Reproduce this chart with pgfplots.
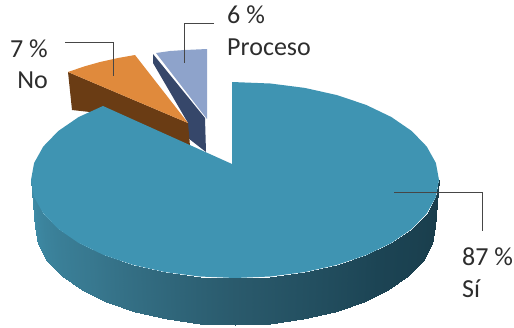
\documentclass[border=0pt]{standalone}
\usepackage{fontspec}
\setmainfont{Carlito}
\usepackage{pgfplots}
\pgfplotsset{compat=1.18}
\definecolor{sitop}{RGB}{63,148,178}
\definecolor{notop}{RGB}{224,138,60}
\definecolor{noside}{RGB}{106,60,20}
\definecolor{protop}{RGB}{142,163,203}
\definecolor{proside}{RGB}{54,71,106}
\definecolor{leader}{RGB}{70,70,70}
\definecolor{labeltext}{RGB}{45,45,45}
\tikzset{lab/.style={inner sep=0pt, text=labeltext, font=\fontsize{26pt}{26pt}\selectfont}}
\begin{document}
\begin{tikzpicture}
\begin{axis}[
  width=514pt, height=327pt, scale only axis,
  xmin=0, xmax=514, ymin=0, ymax=327, y dir=reverse,
  axis lines=none, clip=false,
  colormap={pieside}{rgb255=(25,60,74) rgb255=(28,68,84) rgb255=(42,90,108) rgb255=(56,120,143) rgb255=(62,140,167)},
  point meta min=0, point meta max=18,
]
% Proceso slice: side, then top
\addplot[draw=none, fill=proside] coordinates {(153,54) (205,118) (206,152) (188,138) (188,123) (153,63)} -- cycle;
\addplot[draw=none, fill=protop] coordinates {(156,53) (170,51) (185,50) (207,49) (207,119)} -- cycle;
% No slice: side, then top
\addplot[draw=none, fill=noside] coordinates {(68,72) (188,123) (190,146) (90,112) (72,110)} -- cycle;
\addplot[draw=none, fill=notop] coordinates {(68,72) (84,66.5) (100,62) (118,58) (135,55) (188,123)} -- cycle;
% Si slice: shaded rim between the upper and lower edge
\addplot[surf, shader=interp, mesh/rows=2, mesh/cols=19, point meta=explicit] table[meta=m] {
x y m
439 180 0
435.9 197 1
426.7 213.5 2
411.7 229 3
391.3 243 4
366.1 255.1 5
337 264.9 6
304.8 272.1 7
270.4 276.5 8
235 278 9
199.6 276.5 10
165.2 272.1 11
133 264.9 12
103.9 255.1 13
78.7 243 14
58.3 229 15
43.3 213.5 16
34.1 197 17
31 180 18
435 227 0
432 244 1
422.9 260.5 2
408.2 276 3
388.2 290 4
363.6 302.1 5
335 311.9 6
303.4 319.1 7
269.7 323.5 8
235 325 9
200.3 323.5 10
166.6 319.1 11
135 311.9 12
106.4 302.1 13
81.8 290 14
61.8 276 15
47.1 260.5 16
38 244 17
35 227 18
};
% Si slice: top face
\addplot[draw=none, fill=sitop] coordinates {
(232,82) (270.4,83.5) (304.8,87.9) (337,95.1) (366.1,104.9) (391.3,117) (411.7,131) (426.7,146.5) (435.9,163)
(439,180) (435.9,197) (426.7,213.5) (411.7,229) (391.3,243) (366.1,255.1) (337,264.9) (304.8,272.1) (270.4,276.5)
(235,278) (199.6,276.5) (165.2,272.1) (133,264.9) (103.9,255.1) (78.7,243) (58.3,229) (43.3,213.5) (34.1,197)
(31,180) (34.1,163) (43.3,146.5) (58.3,131) (78.7,117) (103,106) (232,164)} -- cycle;
% Leader lines
\addplot[leader, line width=0.9pt] coordinates {(65,42) (113,42) (113,76)};
\addplot[leader, line width=0.9pt] coordinates {(214,23) (184,23) (184,63)};
\addplot[leader, line width=0.9pt] coordinates {(394,192) (482,192) (482,231)};
% Labels
\node[lab, anchor=base east] at (axis cs:48,57) {7 \%};
\node[lab, anchor=base east] at (axis cs:48,88) {No};
\node[lab, anchor=base west] at (axis cs:227,23) {6 \%};
\node[lab, anchor=base west] at (axis cs:227,55) {Proceso};
\node[lab, anchor=base west] at (axis cs:462,265) {87 \%};
\node[lab, anchor=base west] at (axis cs:462,297) {Sí};
\end{axis}
\path (0,0) rectangle (514pt,327pt);
\end{tikzpicture}
\end{document}
